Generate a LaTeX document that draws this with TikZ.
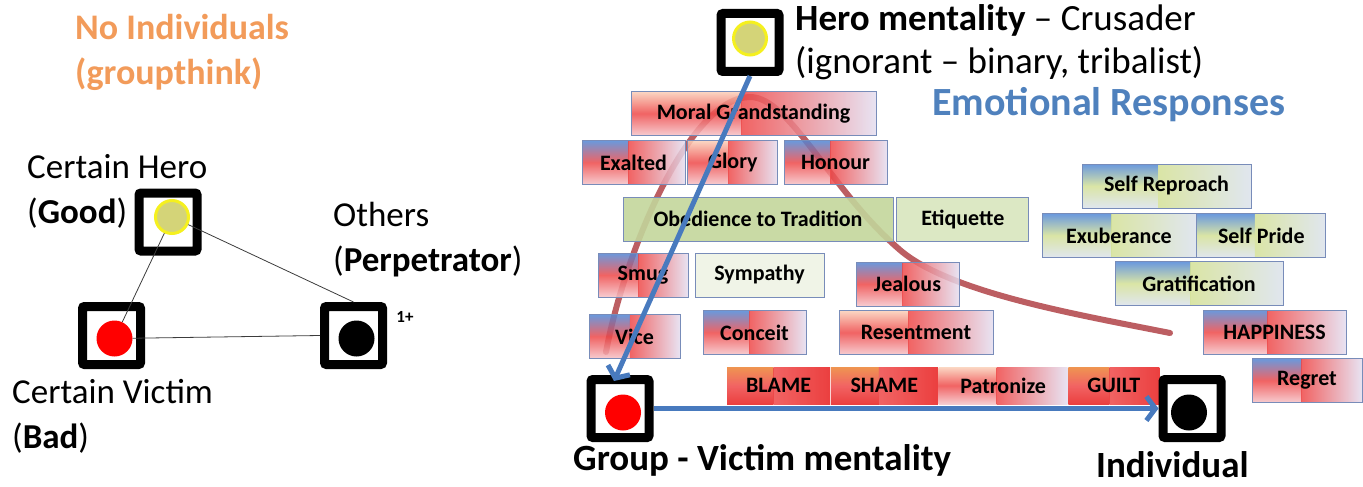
\documentclass[tikz,border=0pt]{standalone}
\usepackage{fontspec}
\setmainfont{Carlito}
\usetikzlibrary{positioning,calc,arrows.meta}

\definecolor{orangetxt}{RGB}{242,155,90}
\definecolor{titleblue}{RGB}{79,129,189}
\definecolor{arrowblue}{RGB}{72,122,190}
\definecolor{curvered}{RGB}{165,40,45}
\definecolor{boxline}{RGB}{120,140,185}
\definecolor{emoblue}{RGB}{80,135,215}
\definecolor{emored}{RGB}{238,72,72}
\definecolor{emopink}{RGB}{245,195,200}
\definecolor{emolav}{RGB}{228,222,240}
\definecolor{emopeach}{RGB}{250,208,185}
\definecolor{emoorange}{RGB}{236,130,50}
\definecolor{hotred}{RGB}{232,30,30}
\definecolor{emolime}{RGB}{212,225,150}
\definecolor{emogrey}{RGB}{218,226,236}
\definecolor{oliveg}{RGB}{195,214,155}
\definecolor{paleg}{RGB}{216,229,190}
\definecolor{mintg}{RGB}{238,243,228}
\definecolor{herodot}{RGB}{212,212,120}
\definecolor{heroring}{RGB}{245,240,30}
\definecolor{trigrey}{RGB}{60,60,60}

\begin{document}
\begin{tikzpicture}[x=1pt, y=-1pt,
	frame/.style  = {draw, line width=9pt, rectangle, rounded corners=2pt, fill=white, minimum size=58pt, inner sep=0pt},
	dot/.style    = {circle, inner sep=0pt, minimum size=36pt},
	big/.style    = {inner sep=0pt, align=left, font=\fontsize{35}{45}\selectfont},
	tri/.style    = {draw=trigrey, thick},
	emo/.style n args={4}{rectangle, draw=boxline, thick, inner sep=0pt, minimum height=44pt,
		font=\fontsize{22}{24}\selectfont\bfseries,
		path picture={
			\shade[fill opacity=.85, top color=#1, bottom color=#3, middle color=#2]
				(path picture bounding box.south west) rectangle
				($(path picture bounding box.north west)!.45!(path picture bounding box.north east)$);
			\shade[fill opacity=.85, left color=#2, right color=#4]
				($(path picture bounding box.south west)!.45!(path picture bounding box.south east)$) rectangle
				(path picture bounding box.north east);
		}},
	redemo/.style   = {emo={emoblue}{emored}{emopink}{emolav}},
	peachemo/.style = {emo={emopeach}{emored}{emopink}{emolav}},
	limeemo/.style  = {emo={emoblue}{emolime}{emogrey}{emogrey}},
	hotemo/.style   = {emo={emoorange}{emored}{hotred}{hotred}, minimum height=37pt, draw=none},
	flat/.style     = {rectangle, draw=boxline, thick, inner sep=0pt, minimum height=44pt,
		font=\fontsize{22}{24}\selectfont\bfseries, fill opacity=.9, text opacity=1},
	bluearrow/.style = {draw=arrowblue, line width=5pt, -{Straight Barb[length=9pt,width=24pt]}},
	]
	\useasboundingbox (0,0) rectangle (1363,487);
	
	% the red curve sits behind the emotion boxes
	\draw[curvered, line width=6pt, opacity=.75, line cap=round]
		(606,352) .. controls (625,250) and (690,97) .. (750,97)
		.. controls (790,97) and (830,190) .. (900,250)
		.. controls (950,293) and (1080,315) .. (1170,333);
	
	% emotion boxes, row by row
	\node[peachemo, minimum width=245pt] (moral) at (753.5,113.5) {Moral Grandstanding};
	\node[redemo, minimum width=103pt] (exalted) at (633.5,162.5) {Exalted};
	\node[peachemo, minimum width=90pt, right=2pt of exalted] (glory) {Glory};
	\node[redemo, minimum width=103pt] (honour) at (835.5,162.5) {Honour};
	\node[flat, fill=oliveg, minimum width=270pt] (obey) at (758,219) {Obedience to Tradition};
	\node[flat, fill=paleg, minimum width=132pt, right=3pt of obey] (etiq) {Etiquette};
	\node[redemo, minimum width=90pt] (smug) at (643,275) {Smug};
	\node[flat, fill=mintg, minimum width=129pt] (symp) at (759.5,275) {Sympathy};
	\node[redemo, minimum width=103pt] (jealous) at (907.5,284) {Jealous};
	\node[redemo, minimum width=91pt] (vice) at (634.5,336.5) {Vice};
	\node[redemo, minimum width=103pt] (conceit) at (754.5,332.5) {Conceit};
	\node[peachemo, minimum width=154pt] (resent) at (916,332.5) {Resentment};
	
	\node[hotemo, minimum width=103pt] (blame) at (778.5,385.5) {BLAME};
	\node[hotemo, minimum width=107pt, right=0pt of blame] (shame) {SHAME};
	\node[peachemo, minimum height=37pt, draw=none, minimum width=129pt, right=0pt of shame] (patron) {Patronize};
	\node[hotemo, minimum width=91pt, right=0pt of patron] (guilt) {GUILT};
	
	\node[limeemo, minimum width=169pt] (reproach) at (1166.5,186) {Self Reproach};
	\node[limeemo, minimum width=154pt] (exub) at (1119,235.5) {Exuberance};
	\node[limeemo, minimum width=129pt, right=0pt of exub] (pride) {Self Pride};
	\node[limeemo, minimum width=168pt] (grat) at (1199,283.5) {Gratification};
	\node[redemo, minimum width=143pt] (happy) at (1274.5,332) {HAPPINESS};
	\node[redemo, minimum width=110pt] (regret) at (1307,380.5) {Regret};
	
	% square frames
	\node[frame] (hbox) at (168,222) {};
	\node[frame] (vbox) at (111.5,335.5) {};
	\node[frame] (obox) at (353.5,335.5) {};
	\node[frame] (rbox) at (750,42.5) {};
	\node[frame] (gbox) at (620,408.5) {};
	\node[frame] (ibox) at (1192,408.5) {};
	
	% dots inside the frames
	\node[dot, fill=herodot, draw=heroring, line width=3pt, minimum size=33pt] (hdot) at ([xshift=4pt,yshift=5pt]hbox.center) {};
	\node[dot, fill=red] (vdot) at ([xshift=3pt,yshift=-3pt]vbox.center) {};
	\node[dot, fill=black] (odot) at ([xshift=3pt,yshift=-3pt]obox.center) {};
	\node[dot, fill=herodot, draw=heroring, line width=3pt, minimum size=33pt] (rdot) at ([yshift=4pt]rbox.center) {};
	\node[dot, fill=red] (gdot) at ([xshift=3pt,yshift=-4pt]gbox.center) {};
	\node[dot, fill=black] (idot) at ([xshift=-3pt,yshift=-4pt]ibox.center) {};
	
	% triangle of the groupthink side
	\draw[tri] (hdot) -- (vdot);
	\draw[tri] (hdot) -- (obox.north);
	\draw[tri] (vdot) -- (obox.west);
	\node[font=\fontsize{17}{19}\selectfont\bfseries] (oneplus) at (405,317) {1+};
	
	% blue arrows
	\draw[bluearrow] (rbox.south) -- ([xshift=-6pt,yshift=-6pt]gbox.north);
	\draw[bluearrow] (gbox.east) -- (ibox.west);
	
	% texts
	\node[big, anchor=west, text=orangetxt, font=\fontsize{36}{45}\selectfont\bfseries] (noind) at (75,52) {No Individuals\\(groupthink)};
	\node[big, anchor=west] (herolbl) at (27,191) {Certain Hero\\(\textbf{Good})};
	\node[big, anchor=west] (othlbl) at (333,240) {Others\\(\textbf{Perpetrator})};
	\node[big, anchor=west] (viclbl) at (12,416) {Certain Victim\\(\textbf{Bad})};
	\node[big, anchor=west, font=\fontsize{37}{43}\selectfont] (herotxt) at (795,42) {\textbf{Hero mentality} – Crusader\\(ignorant – binary, tribalist)};
	\node[anchor=west, inner sep=0pt, text=titleblue, font=\fontsize{40}{44}\selectfont\bfseries] (emotitle) at (932,105) {Emotional Responses};
	\node[anchor=west, inner sep=0pt, font=\fontsize{37}{44}\selectfont\bfseries] (grplbl) at (573,460) {Group - Victim mentality};
	\node[anchor=west, inner sep=0pt, font=\fontsize{37}{44}\selectfont\bfseries] (indlbl) at (1096,465) {Individual};
\end{tikzpicture}
\end{document}
